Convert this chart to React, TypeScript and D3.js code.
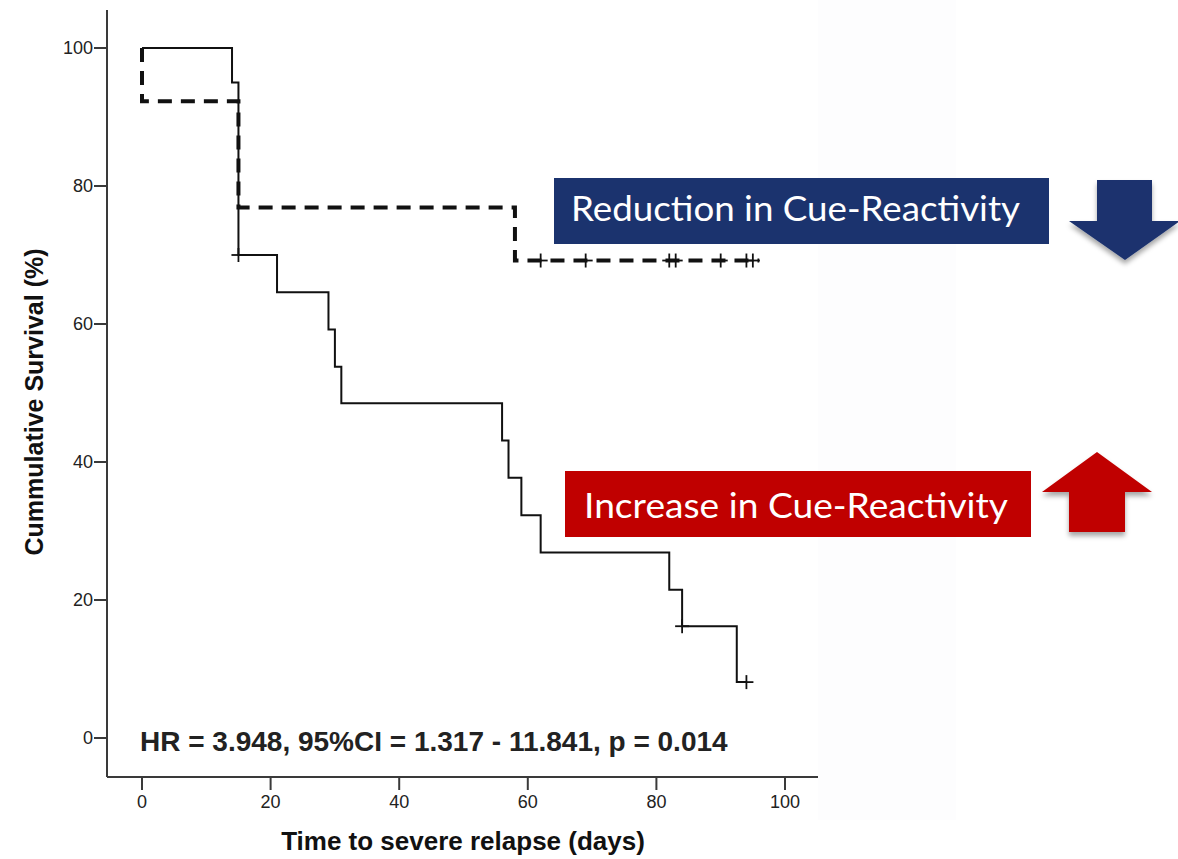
import React from "react";
import * as d3 from "d3";

// Kaplan–Meier steps: [day, cumulative survival %]
const increaseSteps: [number, number][] = [
  [0, 100], [14, 95], [15, 70], [21, 64.6], [29, 59.2], [30, 53.8], [31, 48.5],
  [56, 43.1], [57, 37.7], [59, 32.3], [62, 26.9], [82, 21.5], [84, 16.2], [92.5, 8.1], [94, 8.1],
];
const increaseCensored: [number, number][] = [[15, 70], [84, 16.2], [94, 8.1]];

const reductionSteps: [number, number][] = [
  [0, 100], [0, 92.3], [15, 76.9], [58, 69.2], [96, 69.2],
];
const reductionCensoredDays: number[] = [62, 69, 82, 83, 90, 94, 95];
const reductionCensoredLevel = 69.2;

const xTicks: number[] = [0, 20, 40, 60, 80, 100];
const yTicks: number[] = [0, 20, 40, 60, 80, 100];

const xTitle = "Time to severe relapse (days)";
const yTitle = "Cummulative Survival (%)";
const statsText = "HR = 3.948, 95%CI = 1.317 - 11.841, p = 0.014";
const reductionLabel = "Reduction in Cue-Reactivity";
const increaseLabel = "Increase in Cue-Reactivity";

const W = 1178;
const H = 859;

export default function App() {
  const x = d3.scaleLinear().domain([0, 100]).range([142, 785]);
  const y = d3.scaleLinear().domain([0, 100]).range([738, 48]);

  const step = d3
    .line<[number, number]>()
    .x((d) => x(d[0]))
    .y((d) => y(d[1]))
    .curve(d3.curveStepAfter);

  const axisLeft = 107;
  const axisBottom = 777;
  const axisColor = "#3a3a3a";
  const arial = "'Liberation Sans', Arial, sans-serif";
  const labelFont = "Lato, 'Open Sans', sans-serif";

  const cross = (cx: number, cy: number, key: string, s = 7) => (
    <g key={key} stroke="#111" strokeWidth={1.8}>
      <line x1={cx - s} x2={cx + s} y1={cy} y2={cy} />
      <line x1={cx} x2={cx} y1={cy - s} y2={cy + s} />
    </g>
  );

  return (
    <svg
      width={W}
      height={H}
      viewBox={`0 0 ${W} ${H}`}
      style={{ position: "absolute", left: 0, top: 0, display: "block", background: "#fff" }}
    >
      <defs>
        <filter id="shadow" x="-20%" y="-20%" width="140%" height="150%">
          <feDropShadow dx="0" dy="4" stdDeviation="2.5" floodColor="#000" floodOpacity="0.35" />
        </filter>
      </defs>

      <rect x={818} y={0} width={138} height={820} fill="#fdfdfe" />

      {/* axes */}
      <line x1={axisLeft} x2={axisLeft} y1={10} y2={axisBottom} stroke={axisColor} strokeWidth={2} />
      <line x1={axisLeft} x2={818} y1={axisBottom} y2={axisBottom} stroke={axisColor} strokeWidth={2} />

      {yTicks.map((t) => (
        <g key={`y${t}`}>
          <line x1={axisLeft - 13} x2={axisLeft} y1={y(t)} y2={y(t)} stroke={axisColor} strokeWidth={2} />
          <text
            x={axisLeft - 14}
            y={y(t)}
            dy="0.35em"
            textAnchor="end"
            fontFamily={arial}
            fontSize={18}
            fill="#222"
          >
            {t}
          </text>
        </g>
      ))}
      {xTicks.map((t) => (
        <g key={`x${t}`}>
          <line x1={x(t)} x2={x(t)} y1={axisBottom} y2={axisBottom + 13} stroke={axisColor} strokeWidth={2} />
          <text
            x={x(t)}
            y={808}
            textAnchor="middle"
            fontFamily={arial}
            fontSize={18}
            fill="#222"
          >
            {t}
          </text>
        </g>
      ))}

      <text
        x={463}
        y={850}
        textAnchor="middle"
        fontFamily={arial}
        fontWeight="bold"
        fontSize={26}
        fill="#111"
      >
        {xTitle}
      </text>
      <text
        transform="translate(43,402) rotate(-90)"
        textAnchor="middle"
        fontFamily={arial}
        fontWeight="bold"
        fontSize={25}
        fill="#111"
      >
        {yTitle}
      </text>

      {/* survival curves */}
      <path d={step(reductionSteps) ?? ""} fill="none" stroke="#111" strokeWidth={4} strokeDasharray="14,9" />
      <path d={step(increaseSteps) ?? ""} fill="none" stroke="#111" strokeWidth={2} />

      {increaseCensored.map((d, i) => cross(x(d[0]), y(d[1]), `ic${i}`))}
      {reductionCensoredDays.map((d, i) => cross(x(d), y(reductionCensoredLevel), `rc${i}`))}

      <text x={140} y={751} fontFamily={arial} fontWeight="bold" fontSize={28} fill="#222">
        {statsText}
      </text>

      {/* group labels */}
      <rect x={554} y={178} width={495} height={66} fill="#1b336e" />
      <text
        x={571}
        y={221}
        fontFamily={labelFont}
        fontSize={34}
        fill="#fff"
        textLength={449}
        lengthAdjust="spacingAndGlyphs"
      >
        {reductionLabel}
      </text>
      <rect x={565} y={471} width={466} height={66} fill="#c00000" />
      <text
        x={584}
        y={518}
        fontFamily={labelFont}
        fontSize={34}
        fill="#fff"
        textLength={424}
        lengthAdjust="spacingAndGlyphs"
      >
        {increaseLabel}
      </text>

      {/* arrows */}
      <polygon
        points="1097,180 1152,180 1152,221 1180,221 1125,260 1069,221 1097,221"
        fill="#1b336e"
        filter="url(#shadow)"
      />
      <polygon
        points="1097,452 1152,492 1125,492 1125,532 1069,532 1069,492 1042,492"
        fill="#c00000"
        filter="url(#shadow)"
      />
    </svg>
  );
}
